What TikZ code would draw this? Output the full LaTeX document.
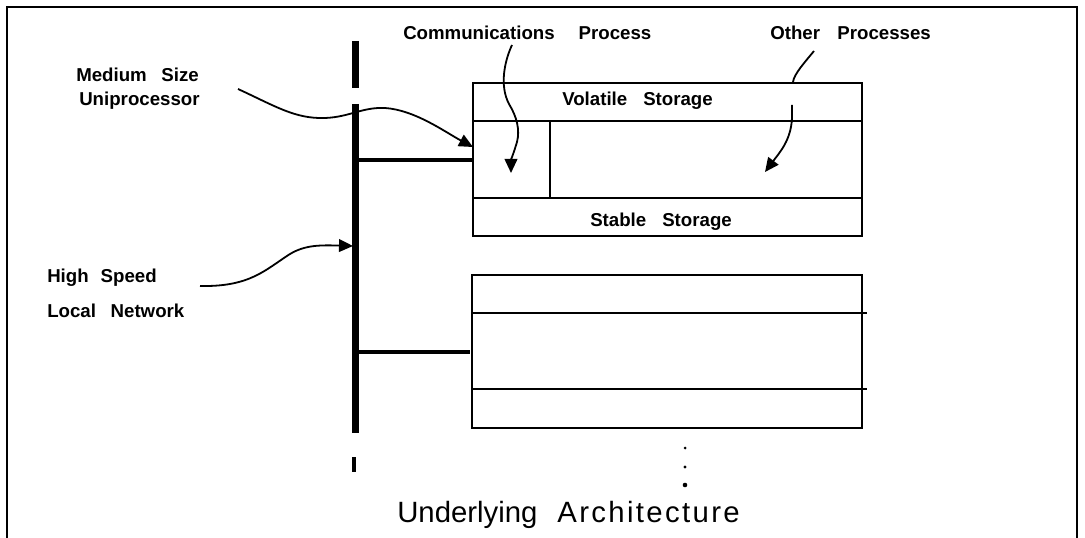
\documentclass[tikz,border=0pt]{standalone}
\usepackage{fontspec}
\setmainfont{Liberation Sans}
\usetikzlibrary{arrows.meta}
\begin{document}
\begin{tikzpicture}[x=0.75pt,y=-0.75pt,
  lbl/.style={font=\fontsize{14}{16}\selectfont\bfseries, inner sep=0pt, anchor=base west},
  ttl/.style={font=\fontsize{22}{25}\selectfont, inner sep=0pt, anchor=base west},
  boxline/.style={line width=1.6pt},
  busline/.style={line width=5.25pt},
  tapline/.style={line width=3pt},
  pointer/.style={line width=1.35pt, -{Triangle[length=10.5pt,width=9.5pt]}},
  plainpointer/.style={line width=1.35pt},
  frameline/.style={line width=2pt}]
\useasboundingbox (0,0) rectangle (1085,538);

% outer frame, open at the bottom
\draw[frameline] (7,538) -- (7,7) -- (1077,7) -- (1077,538);

% network bus
\coordinate (stubTop) at (355.5,41);
\coordinate (stubBot) at (355.5,88);
\coordinate (busTop) at (355.5,104);
\coordinate (busBot) at (355.5,433);
\coordinate (busHit) at (353,246);
\draw[busline] (stubTop) -- (stubBot);
\draw[busline] (busTop) -- (busBot);
\draw[line width=3pt] (354,457) -- (354,472);

% first host
\coordinate (hA) at (473,83);
\coordinate (hB) at (862,236);
\draw[boxline] (hA) rectangle (hB);
\draw[boxline] (473,121) -- (862,121);
\draw[boxline] (473,198) -- (862,198);
\draw[boxline] (550,121) -- (550,198);
\coordinate (tapA) at (359,160);
\coordinate (tapAend) at (473,160);
\draw[tapline] (tapA) -- (tapAend);

% second host
\coordinate (hC) at (472,275);
\coordinate (hD) at (862,428);
\draw[boxline] (hC) rectangle (hD);
\draw[boxline] (472,313) -- (867,313);
\draw[boxline] (472,389) -- (867,389);
\coordinate (tapB) at (359,352);
\coordinate (tapBend) at (470,352);
\draw[tapline] (tapB) -- (tapBend);

% ellipsis below the hosts
\fill (685,448) circle (1.5);
\fill (685,467) circle (1.6);
\fill (685,485) circle (2.3);

% labels
\node[lbl] (comm) at (403,40) {Communications\hspace{18pt}Process};
\node[lbl] (other) at (770,40) {Other\hspace{13pt}Processes};
\node[lbl] (vol) at (562,106) {Volatile\hspace{12pt}Storage};
\node[lbl] (stab) at (590,227) {Stable\hspace{12pt}Storage};
\node[lbl] (med) at (76,82) {Medium\hspace{11pt}Size};
\node[lbl] (uni) at (79,106) {Uniprocessor};
\node[lbl] (high) at (47,283) {High\hspace{9pt}Speed};
\node[lbl] (lan) at (47,317) {Local\hspace{11pt}Network};
\node[ttl] (title) at (397,522) {Underlying\hspace{15pt}{\addfontfeature{LetterSpace=8}Architecture}};

% pointers
\coordinate (medStart) at (238,89);
\coordinate (medTip) at (473,147);
\draw[pointer] (medStart) .. controls (275,106) and (295,119) .. (325,118)
  .. controls (350,117) and (362,107) .. (385,108)
  .. controls (415,110) and (445,132) .. (medTip);

\coordinate (commStart) at (512,45);
\coordinate (commTip) at (511,173);
\draw[pointer] (commStart) .. controls (505,60) and (499,85) .. (509,104)
  .. controls (517,117) and (520,130) .. (517,142)
  .. controls (514,152) and (511,160) .. (commTip);

\coordinate (othStart) at (814,51);
\coordinate (othEnd) at (793,82);
\draw[plainpointer] (othStart) .. controls (805,62) and (794,74) .. (othEnd);

\coordinate (othIn) at (792,105);
\coordinate (othTip) at (765,172);
\draw[pointer] (othIn) -- (792,118) .. controls (791,140) and (780,152) .. (othTip);

\coordinate (netStart) at (200,286);
\draw[pointer] (netStart) .. controls (250,287) and (265,270) .. (290,254)
  .. controls (305,245) and (320,245) .. (busHit);
\end{tikzpicture}
\end{document}
